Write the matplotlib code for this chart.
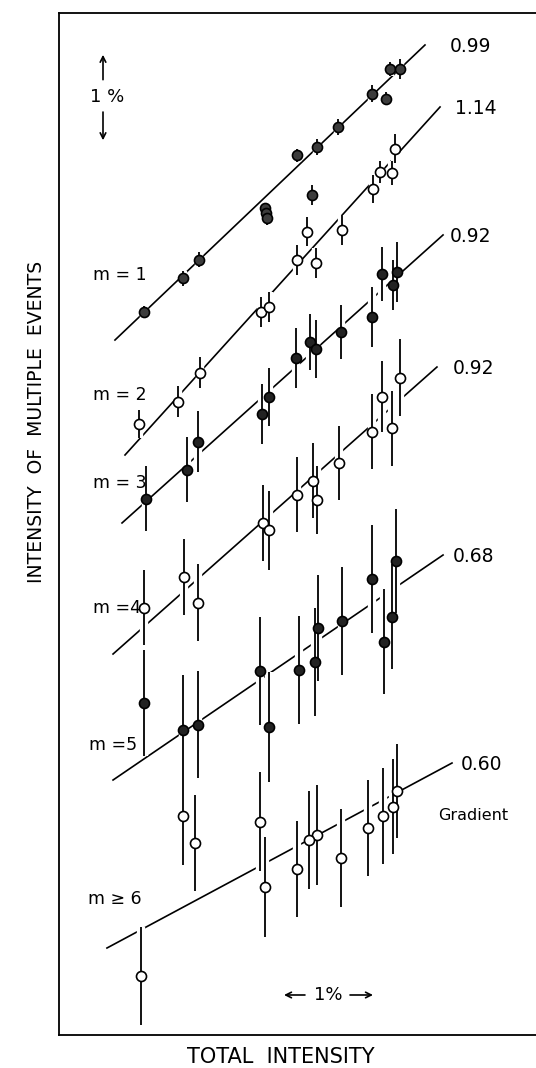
"""Intensity of multiple events vs total intensity, one fitted line per multiplicity m."""

import matplotlib.pyplot as plt
import matplotlib.patheffects as pe

# values in %, x = total intensity, y = intensity of multiple events (offset per m)
m1_x = [3.761, 3.875, 3.557, 3.716, 3.170, 2.932, 2.705, 2.875, 2.341, 2.352, 2.364, 1.591, 1.409, 0.966]
m1_y = [11.64, 11.64, 11.34, 11.28, 10.94, 10.70, 10.60, 10.12, 9.96, 9.90, 9.84, 9.34, 9.12, 8.71]
m1_e = [0.08, 0.12, 0.10, 0.08, 0.10, 0.10, 0.08, 0.12, 0.06, 0.06, 0.08, 0.09, 0.09, 0.07]

m2_x = [3.818, 3.648, 3.784, 3.568, 3.216, 2.818, 2.705, 2.920, 2.295, 2.386, 1.602, 1.352, 0.909]
m2_y = [10.68, 10.40, 10.39, 10.19, 9.70, 9.68, 9.34, 9.30, 8.71, 8.77, 7.98, 7.63, 7.36]
m2_e = [0.175, 0.13, 0.145, 0.17, 0.18, 0.175, 0.18, 0.18, 0.18, 0.18, 0.19, 0.19, 0.17]

m3_x = [3.841, 3.670, 3.795, 3.557, 3.205, 2.852, 2.920, 2.693, 2.386, 2.307, 1.580, 1.455, 0.989]
m3_y = [9.19, 9.17, 9.04, 8.65, 8.47, 8.35, 8.27, 8.16, 7.69, 7.48, 7.15, 6.81, 6.46]
m3_e = [0.36, 0.33, 0.30, 0.36, 0.33, 0.34, 0.35, 0.36, 0.35, 0.36, 0.37, 0.39, 0.39]

m4_x = [3.875, 3.670, 3.784, 3.557, 3.182, 2.886, 2.705, 2.932, 2.318, 2.386, 1.420, 1.580, 0.966]
m4_y = [7.92, 7.69, 7.31, 7.27, 6.89, 6.68, 6.51, 6.45, 6.17, 6.08, 5.52, 5.21, 5.15]
m4_e = [0.46, 0.43, 0.45, 0.45, 0.45, 0.45, 0.45, 0.41, 0.46, 0.48, 0.46, 0.46, 0.45]

m5_x = [3.830, 3.557, 3.784, 3.693, 3.216, 2.943, 2.909, 2.727, 2.284, 2.386, 0.966, 1.580, 1.409]
m5_y = [5.71, 5.49, 5.04, 4.74, 4.99, 4.90, 4.49, 4.40, 4.39, 3.71, 4.00, 3.74, 3.68]
m5_e = [0.63, 0.65, 0.63, 0.63, 0.65, 0.64, 0.65, 0.65, 0.65, 0.66, 0.64, 0.64, 0.66]

m6_x = [3.841, 3.795, 3.682, 3.511, 3.205, 2.932, 2.841, 2.705, 2.284, 2.341, 1.409, 1.545, 0.932]
m6_y = [2.94, 2.75, 2.64, 2.49, 2.13, 2.41, 2.35, 2.00, 2.57, 1.78, 2.64, 2.31, 0.71]
m6_e = [0.57, 0.57, 0.58, 0.58, 0.59, 0.60, 0.59, 0.58, 0.60, 0.60, 0.59, 0.58, 0.59]

m_labels = ["m = 1", "m = 2", "m = 3", "m =4", "m =5", "m \u2265 6"]
gradients = ["0.99", "1.14", "0.92", "0.92", "0.68", "0.60"]
# fitted lines, start and end
fit_x0 = [0.636, 0.750, 0.716, 0.614, 0.614, 0.545]
fit_x1 = [4.159, 4.330, 4.364, 4.295, 4.364, 4.466]
fit_y0 = [8.373, 6.988, 6.169, 4.590, 3.072, 1.048]
fit_y1 = [11.928, 11.181, 9.639, 8.048, 5.783, 3.277]

series = [
    (m1_x, m1_y, m1_e, "#3c3c3c"),
    (m2_x, m2_y, m2_e, "white"),
    (m3_x, m3_y, m3_e, "#222222"),
    (m4_x, m4_y, m4_e, "white"),
    (m5_x, m5_y, m5_e, "#222222"),
    (m6_x, m6_y, m6_e, "white"),
]

fig = plt.figure(figsize=(5.36, 10.68), dpi=100)
ax = fig.add_axes([59 / 536, 1 - 1035 / 1068, 477 / 536, 1022 / 1068])
ax.set_xlim(0, 477 / 88)
ax.set_ylim(0, 1022 / 83)
ax.set_xticks([])
ax.set_yticks([])
ax.spines["right"].set_visible(False)
for s in ["left", "top", "bottom"]:
    ax.spines[s].set_linewidth(1.3)

gap = [pe.Stroke(linewidth=6, foreground="white"), pe.Normal()]

# x of the gradient labels
grad_x = [4.44, 4.50, 4.44, 4.47, 4.48, 4.56]

for i, (x, y, e, fc) in enumerate(series):
    ax.plot([fit_x0[i], fit_x1[i]], [fit_y0[i], fit_y1[i]], color="black", lw=1.2, zorder=1)
    eb = ax.errorbar(x, y, yerr=e, fmt="none", ecolor="black", elinewidth=1.3, capsize=0, zorder=2)
    for col in eb[2]:
        col.set_path_effects(gap)
    ax.scatter(x, y, s=52, facecolors=fc, edgecolors="black", linewidths=1.2, zorder=3)
    ax.text(grad_x[i], fit_y1[i] - 0.02, gradients[i], fontsize=13.5, va="center", ha="left")

# m labels
label_pos = [(0.386, 9.16), (0.386, 7.71), (0.386, 6.65), (0.386, 5.15), (0.341, 3.49), (0.330, 1.64)]
for (lx, ly), txt in zip(label_pos, m_labels):
    ax.text(lx, ly, txt, fontsize=12.5, va="center", ha="left")

ax.text(4.307, 2.65, "Gradient", fontsize=11.5, va="center", ha="left")

# 1% scale markers
arrow = dict(arrowstyle="->", lw=1.2, color="black", shrinkA=0, shrinkB=0)
ax.annotate("", xy=(0.5, 11.81), xytext=(0.5, 11.51), arrowprops=arrow)
ax.annotate("", xy=(0.5, 10.78), xytext=(0.5, 11.12), arrowprops=arrow)
ax.text(0.545, 11.30, "1 %", fontsize=13, ha="center", va="center")
ax.annotate("", xy=(2.557, 0.482), xytext=(2.795, 0.482), arrowprops=arrow)
ax.annotate("", xy=(3.568, 0.482), xytext=(3.307, 0.482), arrowprops=arrow)
ax.text(3.057, 0.482, "1%", fontsize=13, ha="center", va="center")

fig.text(281 / 536, 1 - 1047 / 1068, "TOTAL  INTENSITY", fontsize=15, ha="center", va="top")
fig.text(37 / 536, 1 - 422 / 1068, "INTENSITY  OF  MULTIPLE  EVENTS", fontsize=13.5,
         rotation=90, ha="center", va="center")

fig.savefig("out.png", dpi=100)
